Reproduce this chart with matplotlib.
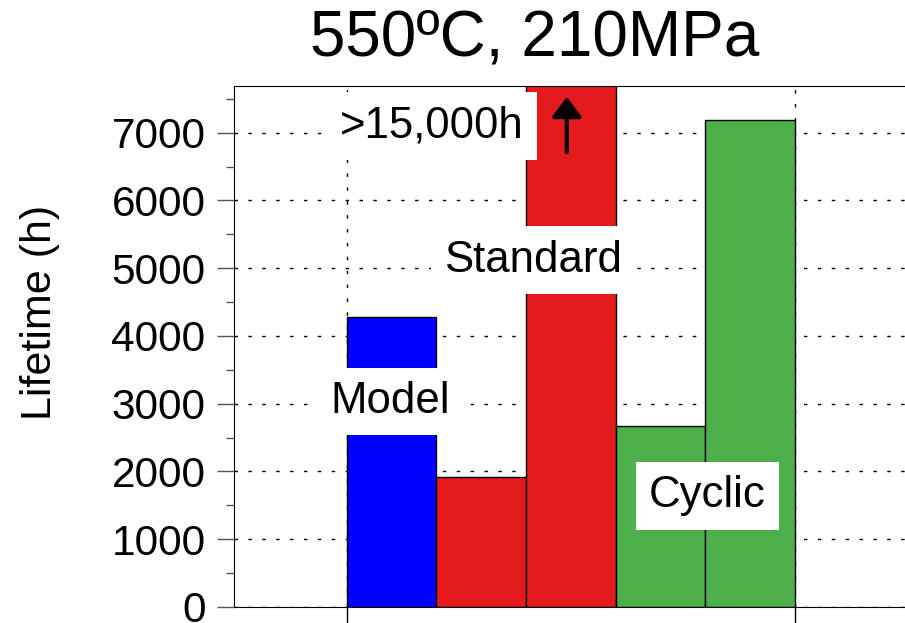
import matplotlib.pyplot as plt
from matplotlib.ticker import MultipleLocator

plt.rcParams['font.family'] = ['Liberation Sans', 'DejaVu Sans']

# bar data
positions = [0.5, 1.5, 2.5, 3.5, 4.5]
lifetimes = [4280, 1925, 15000, 2665, 7190]
colors = ['#0000FF', '#E41A1C', '#E41A1C', '#4DAF4A', '#4DAF4A']

# labels (text, x, y)
labels = [("Model", 0.48, 3030),
          ("Standard", 2.08, 5120),
          ("Cyclic", 4.02, 1640),
          (">15,000h", 0.95, 7100)]

fig = plt.figure(figsize=(9.05, 6.23), dpi=100)
ax = fig.add_axes([234/905, 16/623, 1 - 234/905, (607-86)/623])

ax.bar(positions, lifetimes, width=1.0, color=colors, edgecolor='black',
       linewidth=1, zorder=2)

ax.set_xlim(-1.26, 6.23)
ax.set_ylim(0, 7690)

ax.yaxis.set_major_locator(MultipleLocator(1000))
ax.yaxis.set_minor_locator(MultipleLocator(500))
ax.set_xticks([0, 5])
ax.set_xticklabels([])

ax.grid(True, which='major', color='black', linestyle=(0, (2.5, 7.5)),
        linewidth=1, zorder=0)
ax.set_axisbelow(True)

ax.tick_params(axis='y', which='major', direction='out', length=12, width=1,
               color='#555555', labelsize=30.5, pad=8.5)
ax.tick_params(axis='y', which='minor', direction='out', length=6, width=1,
               color='#555555')
ax.tick_params(axis='x', which='major', direction='out', length=12, width=1)
ax.spines['right'].set_visible(False)

for txt, x, y in labels:
    ax.text(x, y, txt, fontsize=31.5, ha='center', va='center', zorder=5,
            bbox=dict(boxstyle='square,pad=0.3', facecolor='white',
                      edgecolor='none'))

ax.annotate('', xy=(2.455, 7528), xytext=(2.455, 6716),
            arrowprops=dict(arrowstyle='-|>,head_length=0.6,head_width=0.45',
                            color='black', lw=3, mutation_scale=20,
                            shrinkA=0, shrinkB=0), zorder=6)

fig.text(535/905, 1 - 38/623, "550ºC, 210MPa", fontsize=46,
         ha='center', va='center')
fig.text(40/905, 1 - 312/623, "Lifetime (h)", fontsize=31, rotation=90,
         ha='center', va='center')

fig.savefig('out.png', dpi=100)
